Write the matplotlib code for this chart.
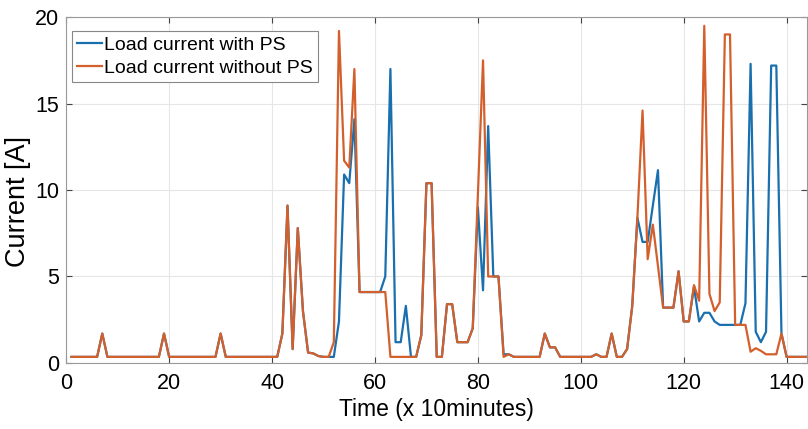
import numpy as np
import matplotlib
matplotlib.use("Agg")
import matplotlib.pyplot as plt

plt.rcParams['font.family'] = ['Liberation Sans', 'DejaVu Sans']

# time steps (x 10 minutes)
t = np.arange(1, 145)

# load current without PS (orange)
without_ps = [
    0.35, 0.35, 0.35, 0.35, 0.35, 0.35, 1.7, 0.35, 0.35, 0.35,      # 1-10
    0.35, 0.35, 0.35, 0.35, 0.35, 0.35, 0.35, 0.35, 1.7, 0.35,      # 11-20
    0.35, 0.35, 0.35, 0.35, 0.35, 0.35, 0.35, 0.35, 0.35, 1.7,      # 21-30
    0.35, 0.35, 0.35, 0.35, 0.35, 0.35, 0.35, 0.35, 0.35, 0.35,     # 31-40
    0.35, 1.7, 9.1, 0.8, 7.8, 3.0, 0.6, 0.55, 0.4, 0.35,            # 41-50
    0.35, 1.2, 19.2, 11.7, 11.3, 17.0, 4.1, 4.1, 4.1, 4.1,          # 51-60
    4.1, 4.1, 0.35, 0.35, 0.35, 0.35, 0.35, 0.35, 1.6, 10.4,        # 61-70
    10.4, 0.35, 0.35, 3.4, 3.4, 1.2, 1.2, 1.2, 2.0, 9.7,            # 71-80
    17.5, 5.0, 5.0, 5.0, 0.35, 0.5, 0.35, 0.35, 0.35, 0.35,         # 81-90
    0.35, 0.35, 1.7, 0.9, 0.9, 0.35, 0.35, 0.35, 0.35, 0.35,        # 91-100
    0.35, 0.35, 0.5, 0.35, 0.35, 1.7, 0.35, 0.35, 0.8, 3.3,         # 101-110
    8.4, 14.6, 6.0, 8.0, 5.6, 3.2, 3.2, 3.2, 5.3, 2.4,              # 111-120
    2.4, 4.5, 3.6, 19.5, 4.0, 3.0, 3.5, 19.0, 19.0, 2.2,            # 121-130
    2.2, 2.2, 0.65, 0.85, 0.7, 0.5, 0.5, 0.5, 1.7, 0.35,            # 131-140
    0.35, 0.35, 0.35, 0.35,                                         # 141-144
]

# load current with PS (blue)
with_ps = [
    0.35, 0.35, 0.35, 0.35, 0.35, 0.35, 1.7, 0.35, 0.35, 0.35,      # 1-10
    0.35, 0.35, 0.35, 0.35, 0.35, 0.35, 0.35, 0.35, 1.7, 0.35,      # 11-20
    0.35, 0.35, 0.35, 0.35, 0.35, 0.35, 0.35, 0.35, 0.35, 1.7,      # 21-30
    0.35, 0.35, 0.35, 0.35, 0.35, 0.35, 0.35, 0.35, 0.35, 0.35,     # 31-40
    0.35, 1.7, 9.1, 0.8, 7.8, 3.0, 0.6, 0.55, 0.4, 0.35,            # 41-50
    0.35, 0.35, 2.4, 10.9, 10.4, 14.1, 4.1, 4.1, 4.1, 4.1,          # 51-60
    4.1, 5.0, 17.0, 1.2, 1.2, 3.3, 0.35, 0.35, 1.6, 10.4,           # 61-70
    10.4, 0.35, 0.35, 3.4, 3.4, 1.2, 1.2, 1.2, 2.0, 9.0,            # 71-80
    4.2, 13.7, 5.0, 5.0, 0.5, 0.5, 0.35, 0.35, 0.35, 0.35,          # 81-90
    0.35, 0.35, 1.7, 0.9, 0.9, 0.35, 0.35, 0.35, 0.35, 0.35,        # 91-100
    0.35, 0.35, 0.5, 0.35, 0.35, 1.7, 0.35, 0.35, 0.8, 3.3,         # 101-110
    8.4, 7.0, 7.0, 9.1, 11.15, 3.2, 3.2, 3.2, 5.3, 2.4,             # 111-120
    2.4, 4.4, 2.4, 2.9, 2.9, 2.4, 2.2, 2.2, 2.2, 2.2,               # 121-130
    2.2, 3.45, 17.3, 1.8, 1.2, 1.8, 17.2, 17.2, 1.7, 0.35,          # 131-140
    0.35, 0.35, 0.35, 0.35,                                         # 141-144
]

fig = plt.figure(figsize=(8.08, 4.29), dpi=100)
ax = fig.add_axes([0.082, 0.154, 0.917, 0.806])

ax.plot(t, with_ps, color='#1A6FAE', lw=1.6, label='Load current with PS')
ax.plot(t, without_ps, color='#D3602C', lw=1.6, label='Load current without PS')

ax.set_xlim(0, 144)
ax.set_ylim(0, 20)
ax.set_xticks(np.arange(0, 141, 20))
ax.set_yticks(np.arange(0, 21, 5))
ax.grid(True, color='#e6e6e6', lw=0.8)
ax.tick_params(direction='in', top=True, right=True, labelsize=15.5, length=4,
               color='#444444')
ax.tick_params(axis='x', pad=7)
ax.tick_params(axis='y', pad=5)
for s in ax.spines.values():
    s.set_color('#999999')
    s.set_linewidth(0.8)

ax.set_xlabel('Time (x 10minutes)', fontsize=16.5, labelpad=3)
ax.set_ylabel('Current [A]', fontsize=19.5)
ax.yaxis.set_label_coords(-0.048, 0.468)

leg = ax.legend(loc='upper left', bbox_to_anchor=(6 / 741, 1 - 14 / 346),
                borderaxespad=0, fontsize=14, handlelength=1.3, handletextpad=0.1,
                borderpad=0.25, labelspacing=0.3, fancybox=False, framealpha=1)
leg.get_frame().set_edgecolor('#888888')
leg.get_frame().set_linewidth(0.8)

fig.savefig('out.png', dpi=100)
